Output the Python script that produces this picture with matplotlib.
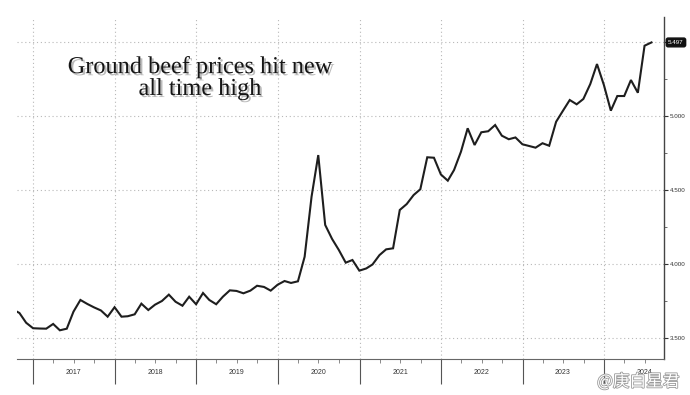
import pandas as pd
import matplotlib
matplotlib.use("Agg")
import matplotlib.pyplot as plt
import matplotlib.dates as mdates
import matplotlib.patheffects as pe
from matplotlib.ticker import MultipleLocator, FuncFormatter

# monthly average price, month-end points, Sep 2016 .. Jul 2024
start_month = "2016-09-30"
prices = [
    3.694, 3.669, 3.603,
    3.566, 3.564, 3.563, 3.595, 3.552, 3.563, 3.678, 3.757, 3.730, 3.707, 3.686, 3.644,
    3.708, 3.644, 3.647, 3.660, 3.732, 3.689, 3.725, 3.750, 3.793, 3.745, 3.718, 3.779,
    3.728, 3.804, 3.757, 3.728, 3.779, 3.822, 3.818, 3.802, 3.820, 3.853, 3.845, 3.820,
    3.860, 3.885, 3.872, 3.883, 4.049, 4.455, 4.736, 4.264, 4.169, 4.095, 4.009, 4.027,
    3.955, 3.970, 3.997, 4.060, 4.099, 4.106, 4.365, 4.405, 4.466, 4.505, 4.721, 4.718,
    4.605, 4.563, 4.635, 4.759, 4.917, 4.804, 4.890, 4.897, 4.939, 4.867, 4.843, 4.855,
    4.809, 4.797, 4.786, 4.816, 4.799, 4.961, 5.034, 5.108, 5.079, 5.115, 5.216, 5.351,
    5.209, 5.036, 5.135, 5.135, 5.243, 5.157, 5.475, 5.497,
]
years = [2017, 2018, 2019, 2020, 2021, 2022, 2023, 2024]
y_ticks = [3.5, 4.0, 4.5, 5.0, 5.5]
title = "Ground beef prices hit new\nall time high"
watermark = "@庚白星君"

dates = pd.date_range(start_month, periods=len(prices), freq="ME")

fig = plt.figure(figsize=(6.9, 3.95), dpi=100)
ax = fig.add_axes([0.0246, 0.0911, 0.9377, 0.8659])

ax.plot(dates, prices, color="#1e1e1e", lw=1.5, solid_joinstyle="miter")

ax.set_xlim(pd.Timestamp("2016-10-20"), pd.Timestamp("2024-09-25"))
ax.set_ylim(3.358, 5.669)

# y axis on the right
ax.yaxis.tick_right()
ax.set_yticks(y_ticks)
ax.yaxis.set_minor_locator(MultipleLocator(0.25))
ax.yaxis.set_major_formatter(FuncFormatter(lambda v, p: f"{v:.3f}"))
ax.tick_params(axis="y", which="major", direction="out", length=3, width=0.8,
               labelsize=4.5, colors="#333333", pad=1.0)
ax.tick_params(axis="y", which="minor", direction="out", length=2, width=0.6, colors="#555555")
for lbl in ax.get_yticklabels():
    lbl.set_family("Liberation Sans")
# the 5.500 level is hidden behind the last-value tag
ax.get_yticklabels()[-1].set_visible(False)

# x axis: long year separators, quarterly minor ticks, year labels centred
ax.xaxis.set_major_locator(mdates.YearLocator())
ax.xaxis.set_minor_locator(mdates.MonthLocator(bymonth=[4, 7, 10]))
ax.xaxis.set_major_formatter(plt.NullFormatter())
ax.tick_params(axis="x", which="major", direction="out", length=18, width=0.8, colors="#555555")
ax.tick_params(axis="x", which="minor", direction="out", length=3, width=0.6, colors="#777777")
for yr in years:
    ax.text(pd.Timestamp(f"{yr}-07-01"), -0.04, str(yr), transform=ax.get_xaxis_transform(),
            ha="center", va="center", fontsize=5, family="Liberation Sans", color="#333333")

ax.grid(True, which="major", linestyle=(0, (1, 2.5)), color="#b8b8b8", lw=0.8)

for s in ["top", "left"]:
    ax.spines[s].set_visible(False)
ax.spines["right"].set_color("#444444")
ax.spines["bottom"].set_color("#666666")
ax.spines["right"].set_linewidth(1.0)
ax.spines["bottom"].set_linewidth(0.8)

# last value tag
ax.annotate(f"{prices[-1]:.3f}", xy=(1.0, prices[-1]), xycoords=("axes fraction", "data"),
            xytext=(3, 0), textcoords="offset points", ha="left", va="center",
            fontsize=4.5, family="Liberation Sans", color="white",
            bbox=dict(boxstyle="round,pad=0.3", fc="#111111", ec="#111111"))

ax.text(0.283, 0.82, title, transform=ax.transAxes, ha="center", va="center",
        fontsize=17.5, family="Liberation Serif", color="#151515", linespacing=1.05,
        path_effects=[pe.SimplePatchShadow(offset=(1.5, -1.5), alpha=0.4, shadow_rgbFace="#555555"),
                      pe.Normal()])

fig.text(0.925, 0.033, watermark, ha="center", va="center", fontsize=12,
         family=["Noto Sans CJK SC", "DejaVu Sans"], color="white",
         path_effects=[pe.withStroke(linewidth=1.2, foreground="#9a9a9a")])

fig.savefig("out.png", dpi=100, facecolor="white")
